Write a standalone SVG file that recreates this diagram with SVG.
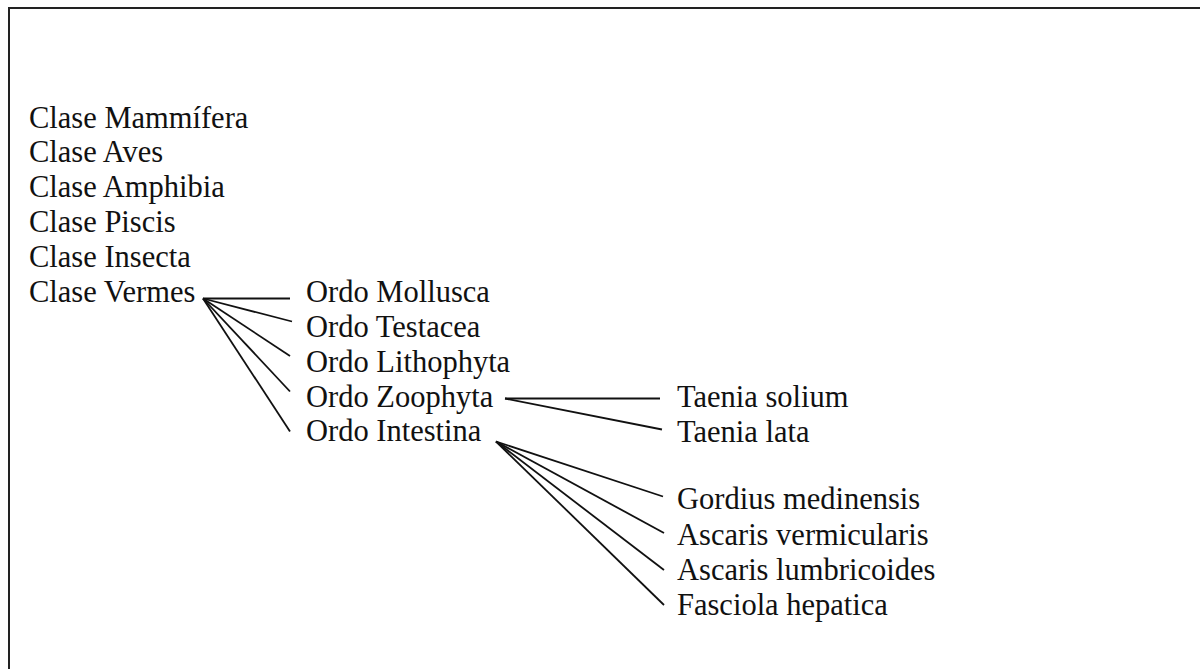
<svg xmlns="http://www.w3.org/2000/svg" width="1200" height="669" viewBox="0 0 1200 669">
<style>
text{font-family:"Liberation Serif","Times New Roman",serif;font-size:30.5px;fill:#111}
.c line{stroke:#111;stroke-width:1.8;fill:none}
.frame{stroke:#222;stroke-width:2;fill:none}
</style>
<rect x="0" y="0" width="1200" height="669" fill="#fff"/>
<path class="frame" d="M9,700 V8 H1210"/>
<g id="classes">
<g id="n-mammifera"><text x="29" y="127.5">Clase Mammífera</text></g>
<g id="n-aves"><text x="29" y="162">Clase Aves</text></g>
<g id="n-amphibia"><text x="29" y="197">Clase Amphibia</text></g>
<g id="n-piscis"><text x="29" y="231.5">Clase Piscis</text></g>
<g id="n-insecta"><text x="29" y="266.5">Clase Insecta</text></g>
<g id="n-vermes"><text x="29" y="301.5">Clase Vermes</text></g>
</g>
<g id="ordines">
<g id="n-mollusca"><text x="306" y="301.5">Ordo Mollusca</text></g>
<g id="n-testacea"><text x="306" y="336.5">Ordo Testacea</text></g>
<g id="n-lithophyta"><text x="306" y="371.5">Ordo Lithophyta</text></g>
<g id="n-zoophyta"><text x="306" y="406.5">Ordo Zoophyta</text></g>
<g id="n-intestina"><text x="306" y="441">Ordo Intestina</text></g>
</g>
<g id="species">
<g id="n-taenia-solium"><text x="677" y="406.5">Taenia solium</text></g>
<g id="n-taenia-lata"><text x="677" y="441.5">Taenia lata</text></g>
<g id="n-gordius"><text x="677" y="509">Gordius medinensis</text></g>
<g id="n-ascaris-verm"><text x="677" y="545">Ascaris vermicularis</text></g>
<g id="n-ascaris-lumb"><text x="677" y="580">Ascaris lumbricoides</text></g>
<g id="n-fasciola"><text x="677" y="615">Fasciola hepatica</text></g>
</g>
<g id="connectors" class="c">
<line x1="203" y1="298.5" x2="290" y2="298.5"/>
<line x1="203" y1="298.5" x2="292" y2="321.5"/>
<line x1="203" y1="298.5" x2="290" y2="356"/>
<line x1="203" y1="298.5" x2="290" y2="391.5"/>
<line x1="203" y1="298.5" x2="290" y2="431.5"/>
<line x1="505" y1="398.5" x2="660" y2="398.5"/>
<line x1="505" y1="398.5" x2="662" y2="429.5"/>
<line x1="496" y1="441.5" x2="663" y2="496.5"/>
<line x1="496" y1="441.5" x2="664" y2="533"/>
<line x1="496" y1="441.5" x2="664" y2="570"/>
<line x1="496" y1="441.5" x2="664" y2="605"/>
</g>
</svg>
